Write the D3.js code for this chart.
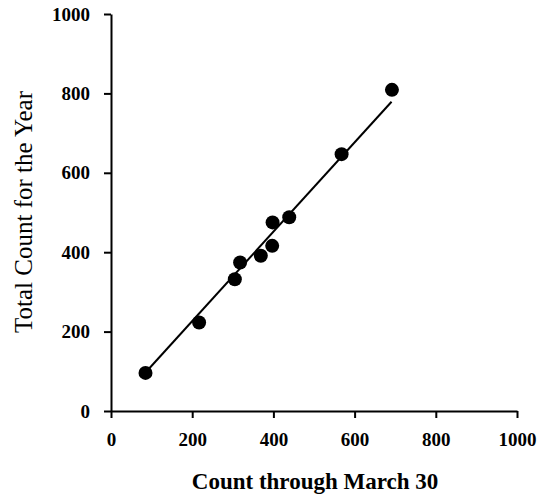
<!DOCTYPE html>
<html>
<head>
<meta charset="utf-8">
<script src="https://cdn.jsdelivr.net/npm/d3@7"></script>
<style>
  body { margin: 0; background: #fff; }
  text { font-family: "Liberation Serif", "Times New Roman", serif; }
</style>
</head>
<body>
<svg id="chart"></svg>
<script>
// values
const marchCounts = [85, 217, 305, 318, 369, 397, 398, 439, 568, 692];
const yearCounts  = [96, 223, 332, 374, 391, 416, 475, 488, 647, 809];
// fitted line as drawn (start / end)
const fitX = [85, 691];
const fitY = [97, 779];
const tickValues = [0, 200, 400, 600, 800, 1000];

const width = 538, height = 495;

const svg = d3.select("#chart")
  .attr("width", width)
  .attr("height", height);

const x = d3.scaleLinear().domain([0, 1000]).range([111, 517]);
const y = d3.scaleLinear().domain([0, 1000]).range([411, 14]);

const fmt = d3.format("d");

// axes
const xAxis = svg.append("g")
  .attr("transform", `translate(0,${y(0)})`)
  .call(d3.axisBottom(x).tickValues(tickValues).tickFormat(fmt)
    .tickSize(7).tickSizeOuter(0).tickPadding(15));

const yAxis = svg.append("g")
  .attr("transform", `translate(${x(0)},0)`)
  .call(d3.axisLeft(y).tickValues(tickValues).tickFormat(fmt)
    .tickSize(7).tickSizeOuter(0).tickPadding(14));

[xAxis, yAxis].forEach(g => {
  g.select(".domain").attr("stroke", "#000").attr("stroke-width", 2);
  g.selectAll(".tick line").attr("stroke", "#000").attr("stroke-width", 2);
  g.selectAll(".tick text")
    .attr("fill", "#000")
    .style("font-family", '"Liberation Serif", serif')
    .style("font-size", "19px")
    .style("font-weight", "bold");
});

// regression line
const pts = fitX.map((d, i) => [d, fitY[i]]);
svg.append("path")
  .attr("d", d3.line().x(d => x(d[0])).y(d => y(d[1]))(pts))
  .attr("stroke", "#000")
  .attr("stroke-width", 2)
  .attr("fill", "none");

// points
svg.selectAll("circle.pt")
  .data(marchCounts.map((d, i) => ({ m: d, t: yearCounts[i] })))
  .enter().append("circle")
  .attr("class", "pt")
  .attr("cx", d => x(d.m))
  .attr("cy", d => y(d.t))
  .attr("r", 7)
  .attr("fill", "#000");

// axis titles
svg.append("text")
  .attr("x", 315)
  .attr("y", 489)
  .attr("text-anchor", "middle")
  .style("font-size", "23px")
  .style("font-weight", "bold")
  .text("Count through March 30");

svg.append("text")
  .attr("transform", "translate(32,212) rotate(-90)")
  .attr("text-anchor", "middle")
  .style("font-size", "25px")
  .text("Total Count for the Year");
</script>
</body>
</html>
